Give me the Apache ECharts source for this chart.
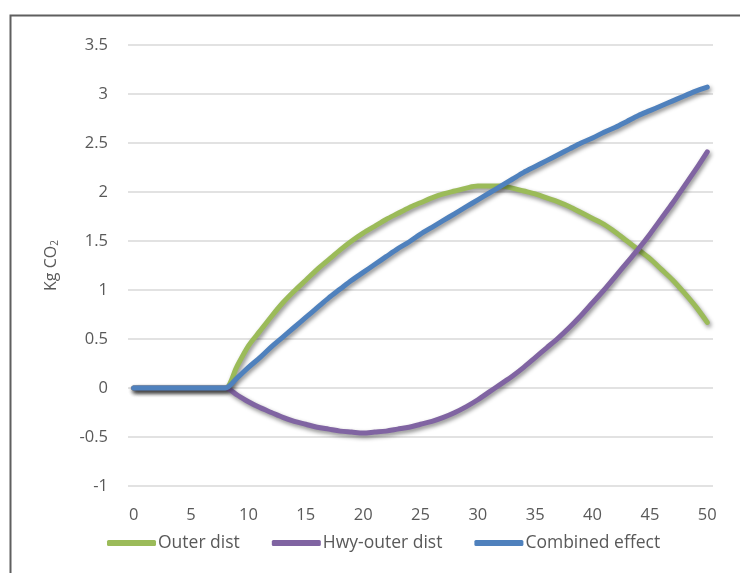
<!DOCTYPE html>
<html>
<head>
<meta charset="utf-8">
<script src="https://cdn.jsdelivr.net/npm/echarts@6/dist/echarts.min.js"></script>
<style>html,body{margin:0;padding:0;background:#fff;}#c{width:740px;height:573px;}</style>
</head>
<body>
<div id="c"></div>
<script>
const categories = [];
for (let i = 0; i <= 50; i++) categories.push(String(i));

const outerDist = [0,0,0,0,0,0,0,0,0,0.22,0.43,0.58,0.73,0.87,0.99,1.1,1.21,1.31,1.41,1.5,1.58,1.65,1.72,1.78,1.84,1.89,1.94,1.98,2.01,2.04,2.06,2.06,2.06,2.04,2.01,1.98,1.94,1.9,1.85,1.79,1.73,1.67,1.59,1.5,1.41,1.32,1.21,1.1,0.97,0.83,0.67];
const hwyOuterDist = [0,0,0,0,0,0,0,0,0,-0.07,-0.14,-0.2,-0.25,-0.3,-0.34,-0.37,-0.4,-0.42,-0.44,-0.45,-0.46,-0.45,-0.44,-0.42,-0.4,-0.37,-0.34,-0.3,-0.25,-0.19,-0.12,-0.04,0.04,0.12,0.21,0.31,0.41,0.51,0.62,0.74,0.87,1.0,1.14,1.28,1.42,1.57,1.73,1.89,2.06,2.23,2.41];
const combinedEffect = [0,0,0,0,0,0,0,0,0,0.1,0.21,0.31,0.42,0.52,0.62,0.72,0.82,0.92,1.01,1.1,1.18,1.26,1.34,1.42,1.49,1.57,1.64,1.71,1.78,1.85,1.92,1.99,2.06,2.13,2.2,2.26,2.32,2.38,2.44,2.5,2.55,2.61,2.66,2.72,2.78,2.83,2.88,2.93,2.98,3.03,3.07];

const seriesNames = ['Outer dist', 'Hwy-outer dist', 'Combined effect'];
const colors = ['#9BBB59', '#8064A2', '#4F81BD'];
const seriesData = [outerDist, hwyOuterDist, combinedEffect];

const FONT = '"Open Sans", Lato, sans-serif';
const chart = echarts.init(document.getElementById('c'));
chart.setOption({
  animation: false,
  backgroundColor: '#ffffff',
  graphic: [{
    type: 'rect', left: 8, top: 13, silent: true,
    shape: { x: 0, y: 0, width: 900, height: 700 },
    style: { fill: 'none', stroke: '#5f5f5f', lineWidth: 2 }
  }],
  grid: { left: 128, right: 27, top: 45, bottom: 87, containLabel: false },
  legend: {
    left: 102, top: 529,
    itemWidth: 49, itemHeight: 6, itemGap: 32,
    icon: 'roundRect',
    textStyle: { fontFamily: FONT, fontSize: 17.5, color: '#595959', padding: [0, 0, 0, -3] },
    data: seriesNames
  },
  xAxis: {
    type: 'category', data: categories, boundaryGap: true,
    axisLine: { show: false }, axisTick: { show: false },
    axisLabel: { interval: 4, margin: 21, fontFamily: FONT, fontSize: 16.5, color: '#595959' },
    splitLine: { show: false }
  },
  yAxis: {
    type: 'value', min: -1, max: 3.5, interval: 0.5,
    axisLine: { show: false }, axisTick: { show: false },
    axisLabel: { margin: 20, fontFamily: FONT, fontSize: 16.5, color: '#595959' },
    splitLine: { lineStyle: { color: '#d9d9d9', width: 1.5 } },
    name: 'Kg CO{s|2}', nameLocation: 'middle', nameGap: 68, nameRotate: 90,
    nameTextStyle: {
      fontFamily: FONT, fontSize: 16, color: '#595959',
      rich: { s: { fontFamily: FONT, fontSize: 10, color: '#595959', verticalAlign: 'bottom', padding: [7, 0, 0, 0] } }
    }
  },
  series: seriesData.map((d, k) => ({
    name: seriesNames[k], type: 'line', data: d,
    smooth: 0.3, showSymbol: false, symbol: 'none',
    color: colors[k],
    lineStyle: {
      width: 5, color: colors[k], cap: 'round', join: 'round',
      shadowColor: 'rgba(0,0,0,0.45)', shadowBlur: 4, shadowOffsetX: 1.5, shadowOffsetY: 2.5
    },
    z: 2 + k
  }))
});
</script>
</body>
</html>
